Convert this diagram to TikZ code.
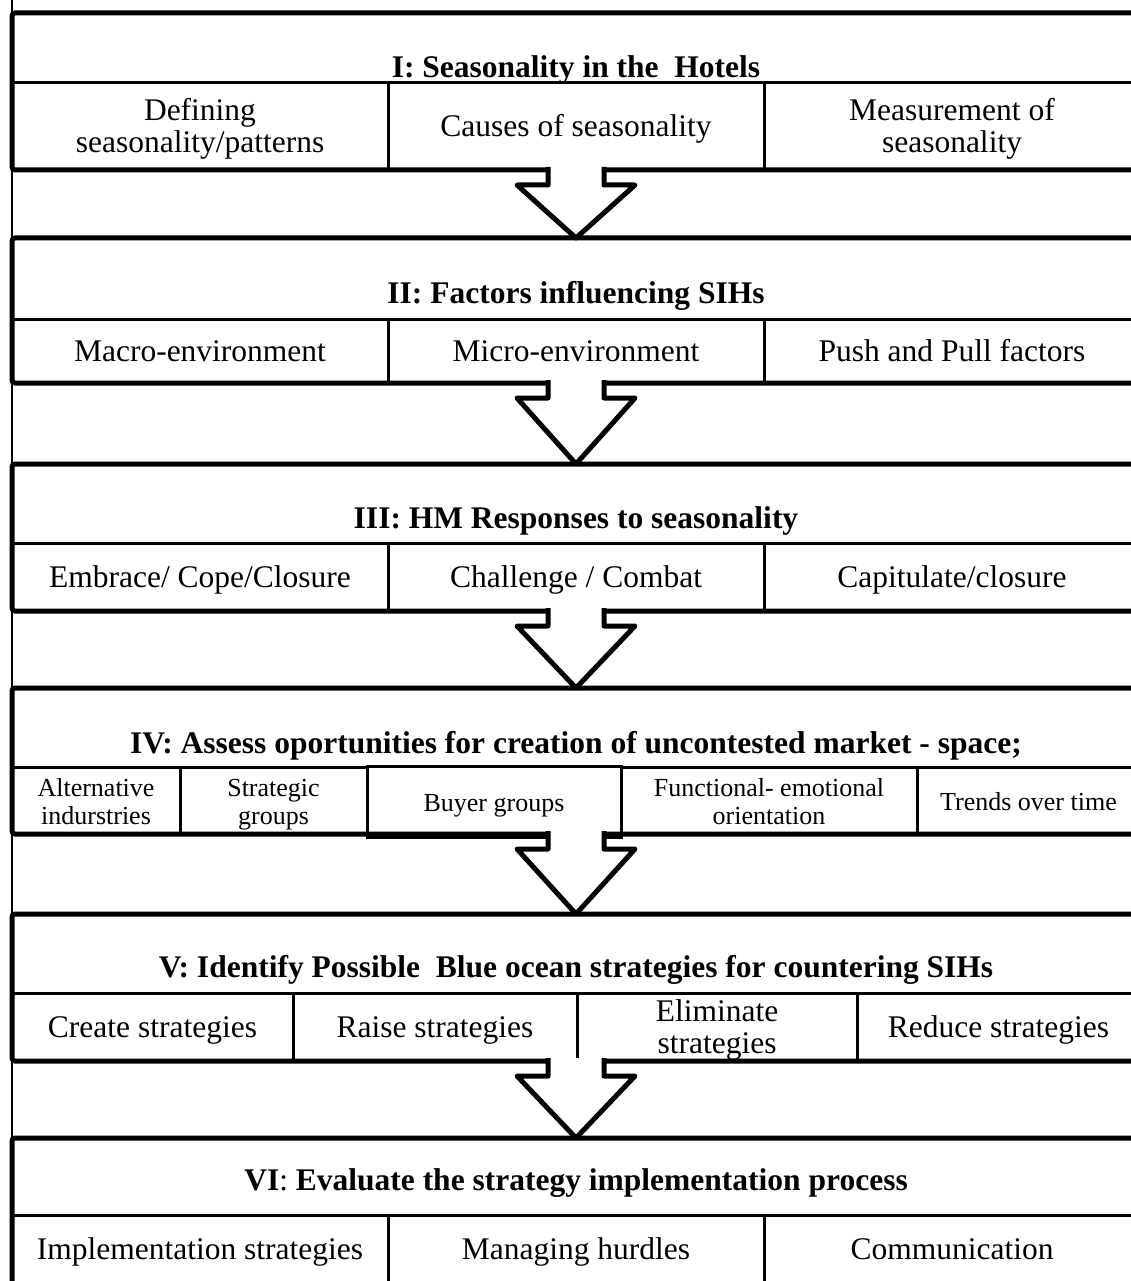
\documentclass[tikz,border=0pt]{standalone}
\usepackage{fontspec}
\setmainfont{Liberation Serif}
\usetikzlibrary{calc}

\newcommand{\lift}{\rule{0pt}{\dimexpr\ht\strutbox+8pt\relax}}

\tikzset{
  stage/.style={draw,line width=5pt,rounded corners=3pt,minimum width=1128pt,outer sep=0pt,inner sep=0pt},
  cell/.style={draw,line width=3pt,outer sep=0pt,inner xsep=0pt,inner ysep=-8pt,align=center,font=\fontsize{31.5}{32}\selectfont,
    execute at begin node=\lift,execute at end node=\strut},
  small cell/.style={cell,font=\fontsize{26}{28}\selectfont},
  heading/.style={font=\bfseries\fontsize{31.5}{32}\selectfont,execute at begin node=\strut},
  hollow/.style={draw,line width=5pt,line join=round,fill=white}
}

\newcommand{\hollowarrow}[2]{%
  \draw[hollow] ($(#1.south)+(-28,-3)$) -- ($(#1.south)+(-28,15)$) -- ($(#1.south)+(-59,15)$)
    -- (#2.north) -- ($(#1.south)+(59,15)$) -- ($(#1.south)+(28,15)$) -- ($(#1.south)+(28,-3)$);}

\begin{document}
\begin{tikzpicture}[x=1pt,y=-1pt]
  \useasboundingbox (0,0) rectangle (1131,1281);
  \clip (0,0) rectangle (1131,1281);

  \coordinate (rail top) at (12,0);
  \coordinate (rail bottom) at (12,1281);
  \draw[line width=1.2pt] (rail top) -- (rail bottom);

  \path
  (576,91.5)  node[stage,minimum height=157pt](s1) {}
  (576,310.5) node[stage,minimum height=145pt](s2) {}
  (576,537.5) node[stage,minimum height=147pt](s3) {}
  (576,761)   node[stage,minimum height=146pt](s4) {}
  (576,987.5) node[stage,minimum height=147pt](s5) {}
  (576,1219)  node[stage,minimum height=162pt](s6) {}

  (576,71)   node[heading](t1) {I: Seasonality in the~ Hotels}
  (576,297)  node[heading](t2) {II: Factors influencing SIHs}
  (576,522)  node[heading](t3) {III: HM Responses to seasonality}
  (576,747)  node[heading](t4) {IV: Assess oportunities for creation of uncontested market - space;}
  (576,971)  node[heading](t5) {V: Identify Possible~ Blue ocean strategies for countering SIHs}
  (576,1184) node[heading](t6) {VI{\mdseries :} Evaluate the strategy implementation process}

  (200,126.5) node[cell,minimum width=376pt,minimum height=87pt](c1a) {\lift Defining\\seasonality/patterns}
  (576,126.5) node[cell,minimum width=376pt,minimum height=87pt](c1b) {Causes of seasonality}
  (952,126.5) node[cell,minimum width=376pt,minimum height=87pt](c1c) {\lift Measurement of\\seasonality}

  (200,351) node[cell,minimum width=376pt,minimum height=64pt](c2a) {Macro-environment}
  (576,351) node[cell,minimum width=376pt,minimum height=64pt](c2b) {Micro-environment}
  (952,351) node[cell,minimum width=376pt,minimum height=64pt](c2c) {Push and Pull factors}

  (200,577) node[cell,minimum width=376pt,minimum height=68pt](c3a) {Embrace/ Cope/Closure}
  (576,577) node[cell,minimum width=376pt,minimum height=68pt](c3b) {Challenge / Combat}
  (952,577) node[cell,minimum width=376pt,minimum height=68pt](c3c) {Capitulate/closure}

  (96,800.5)    node[small cell,minimum width=168pt,minimum height=67pt](c4a) {\lift Alternative\\indurstries}
  (273.5,800.5) node[small cell,minimum width=187pt,minimum height=67pt](c4b) {\lift Strategic\\groups}
  (494,801.5)   node[small cell,minimum width=254pt,minimum height=71pt](c4c) {Buyer groups}
  (769,800.5)   node[small cell,minimum width=296pt,minimum height=67pt](c4d) {\lift Functional- emotional\\orientation}
  (1028.5,800.5) node[small cell,minimum width=223pt,minimum height=67pt](c4e) {Trends over time}

  (152.5,1027) node[cell,minimum width=281pt,minimum height=68pt](c5a) {Create strategies}
  (435,1027)   node[cell,minimum width=284pt,minimum height=68pt](c5b) {Raise strategies}
  (717,1027)   node[cell,minimum width=280pt,minimum height=68pt](c5c) {\lift Eliminate\\strategies}
  (998.5,1027) node[cell,minimum width=283pt,minimum height=68pt](c5d) {Reduce strategies}

  (200,1249) node[cell,minimum width=376pt,minimum height=68pt](c6a) {Implementation strategies}
  (576,1249) node[cell,minimum width=376pt,minimum height=68pt](c6b) {Managing hurdles}
  (952,1249) node[cell,minimum width=376pt,minimum height=68pt](c6c) {Communication}
  ;

  \hollowarrow{s1}{s2}
  \hollowarrow{s2}{s3}
  \hollowarrow{s3}{s4}
  \hollowarrow{s4}{s5}
  \hollowarrow{s5}{s6}

\end{tikzpicture}
\end{document}
